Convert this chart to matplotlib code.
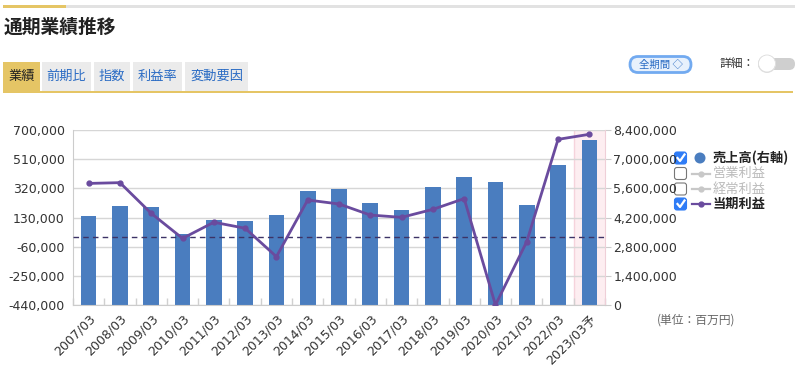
import matplotlib
matplotlib.use("Agg")
import matplotlib.pyplot as plt
from matplotlib.patches import FancyBboxPatch, Rectangle, Circle
import numpy as np

plt.rcParams['font.family'] = ['DejaVu Sans', 'Noto Sans CJK JP']
JP = ['Noto Sans CJK JP', 'DejaVu Sans']

# data (million yen)
periods = ['2007/03', '2008/03', '2009/03', '2010/03', '2011/03', '2012/03',
           '2013/03', '2014/03', '2015/03', '2016/03', '2017/03', '2018/03',
           '2019/03', '2020/03', '2021/03', '2022/03', '2023/03予']
sales = [4270000, 4770000, 4720000, 3410000, 4080000, 4030000, 4320000,
         5470000, 5570000, 4880000, 4580000, 5680000, 6130000, 5890000,
         4780000, 6740000, 7940000]
net_income = [352000, 357000, 157000, -6000, 99000, 60000, -125000, 244000,
              218000, 146000, 131000, 183000, 253000, -440000, -27000,
              639000, 672000]
left_ticks = [-440000, -250000, -60000, 130000, 320000, 510000, 700000]
right_ticks = [0, 1400000, 2800000, 4200000, 5600000, 7000000, 8400000]

BLUE = '#4a7dbf'
PURPLE = '#6a4b9e'
GOLD = '#e5c565'

fig = plt.figure(figsize=(8, 3.75), dpi=100)

# page chrome drawn in pixel coordinates
ui = fig.add_axes([0, 0, 1, 1])
ui.set_xlim(0, 800)
ui.set_ylim(375, 0)
ui.axis('off')

ui.add_patch(Rectangle((3, 4.5), 792, 3.5, color='#e2e2e2', lw=0))
ui.add_patch(Rectangle((3, 4.5), 63, 3.5, color=GOLD, lw=0))
ui.text(4, 27, '通期業績推移', family=JP, fontsize=13.5, fontweight='bold',
        color='#222222', va='center', ha='left')

tabs = [('業績', 3, 40), ('前期比', 42, 91), ('指数', 94, 130),
        ('利益率', 133, 182), ('変動要因', 185, 248)]
for i, (name, x0, x1) in enumerate(tabs):
    ui.add_patch(Rectangle((x0, 62), x1 - x0, 29,
                           color=GOLD if i == 0 else '#ebebeb', lw=0))
    ui.text((x0 + x1) / 2, 76.5, name, family=JP, fontsize=9.5,
            color='#222222' if i == 0 else '#2b6cc4', ha='center', va='center')
ui.add_patch(Rectangle((3, 90.5), 790, 2.5, color=GOLD, lw=0))

ui.add_patch(FancyBboxPatch((630, 56.5), 61, 16, boxstyle='round,pad=0,rounding_size=8',
                            fc='#e8f1fc', ec='#72aaf0', lw=2))
ui.text(660.5, 65, '全期間 ◇', family=JP, fontsize=7.5, color='#2b6cc4',
        ha='center', va='center')
ui.text(719, 64, '詳細：', family=JP, fontsize=8.5, color='#333333',
        ha='left', va='center')
ui.add_patch(FancyBboxPatch((758, 58), 37, 12, boxstyle='round,pad=0,rounding_size=6',
                            fc='#cfcfcf', ec='none'))
ui.add_patch(Circle((767, 64), 9, fc='#e0e0e0', ec='none'))
ui.add_patch(Circle((767, 63.5), 8.5, fc='white', ec='#dddddd', lw=0.6))

# legend
rows = [('売上高(右軸)', 158, True, 'bar'), ('営業利益', 173.5, False, 'line'),
        ('経常利益', 189, False, 'line'), ('当期利益', 204, True, 'line')]
for label, y, on, kind in rows:
    if on:
        ui.add_patch(FancyBboxPatch((674.5, y - 6), 12, 12,
                                    boxstyle='round,pad=0,rounding_size=2.5',
                                    fc='#2f7cf6', ec='#2f7cf6', lw=0.8))
        ui.plot([677.5, 680, 684.5], [y, y + 3, y - 3.5], color='white', lw=1.6)
    else:
        ui.add_patch(FancyBboxPatch((674.5, y - 6), 12, 12,
                                    boxstyle='round,pad=0,rounding_size=2.5',
                                    fc='white', ec='#777777', lw=0.8))
    if kind == 'bar':
        ui.add_patch(Circle((700, y), 5.5, fc=BLUE, ec='none'))
    else:
        col = PURPLE if on else '#c8c8c8'
        ui.plot([692, 710], [y, y], color=col, lw=1.6)
        ui.plot([701], [y], 'o', color=col, ms=3.5)
    ui.text(713, y, label, family=JP, fontsize=9.5,
            fontweight='bold' if on else 'normal',
            color='#222222' if on else '#bbbbbb', ha='left', va='center')

ui.text(657, 320, '(単位：百万円)', family=JP, fontsize=8.5, color='#666666',
        ha='left', va='center')

# chart
pos = [73 / 800, 1 - 305 / 375, 532 / 800, 175 / 375]
x = np.arange(len(periods))

ax_bar = fig.add_axes(pos)
ax_bar.axvspan(15.5, 16.5, color='#fdeef1', zorder=0, lw=0)
ax_bar.axvline(15.5, color='#f6d3dc', lw=1, zorder=0.5)
ax_bar.bar(x, sales, width=0.5, color=BLUE, zorder=2)
ax_bar.set_xlim(-0.5, len(periods) - 0.5)
ax_bar.set_ylim(0, 8400000)
ax_bar.set_yticks(right_ticks)
ax_bar.set_yticklabels([f'{v:,}' for v in right_ticks])
ax_bar.yaxis.tick_right()
ax_bar.tick_params(axis='y', length=4, color='#cccccc', labelsize=9,
                   labelcolor='#333333', pad=2)
ax_bar.grid(axis='y', color='#d6d6d6', lw=1)
ax_bar.set_axisbelow(True)
ax_bar.set_xticks(x)
ax_bar.set_xticklabels(periods, rotation=45, ha='right', rotation_mode='anchor')
ax_bar.tick_params(axis='x', which='major', length=0, labelsize=9,
                   labelcolor='#333333', pad=5)
ax_bar.set_xticks(np.arange(-0.5, len(periods)), minor=True)
ax_bar.tick_params(axis='x', which='minor', direction='in', length=5,
                   color='#d0d0d0', width=1)
for s in ['top', 'left']:
    ax_bar.spines[s].set_visible(False)
ax_bar.spines['bottom'].set_color('#cccccc')
ax_bar.spines['right'].set_color('#efcfd8')

ax_line = fig.add_axes(pos, sharex=ax_bar)
ax_line.patch.set_visible(False)
ax_line.axhline(0, color='#3d3366', lw=1, ls=(0, (4, 3)), zorder=3)
ax_line.plot(x, net_income, color=PURPLE, lw=2, marker='o', ms=3.5, zorder=4)
ax_line.set_ylim(-440000, 700000)
ax_line.set_yticks(left_ticks)
ax_line.set_yticklabels([f'{v:,}' for v in left_ticks])
ax_line.tick_params(axis='y', length=0, labelsize=9, labelcolor='#333333', pad=6)
ax_line.tick_params(axis='x', which='both', length=0, labelbottom=False)
for s in ['top', 'right', 'bottom']:
    ax_line.spines[s].set_visible(False)
ax_line.spines['left'].set_color('#cccccc')

fig.savefig('out.png', dpi=100)
